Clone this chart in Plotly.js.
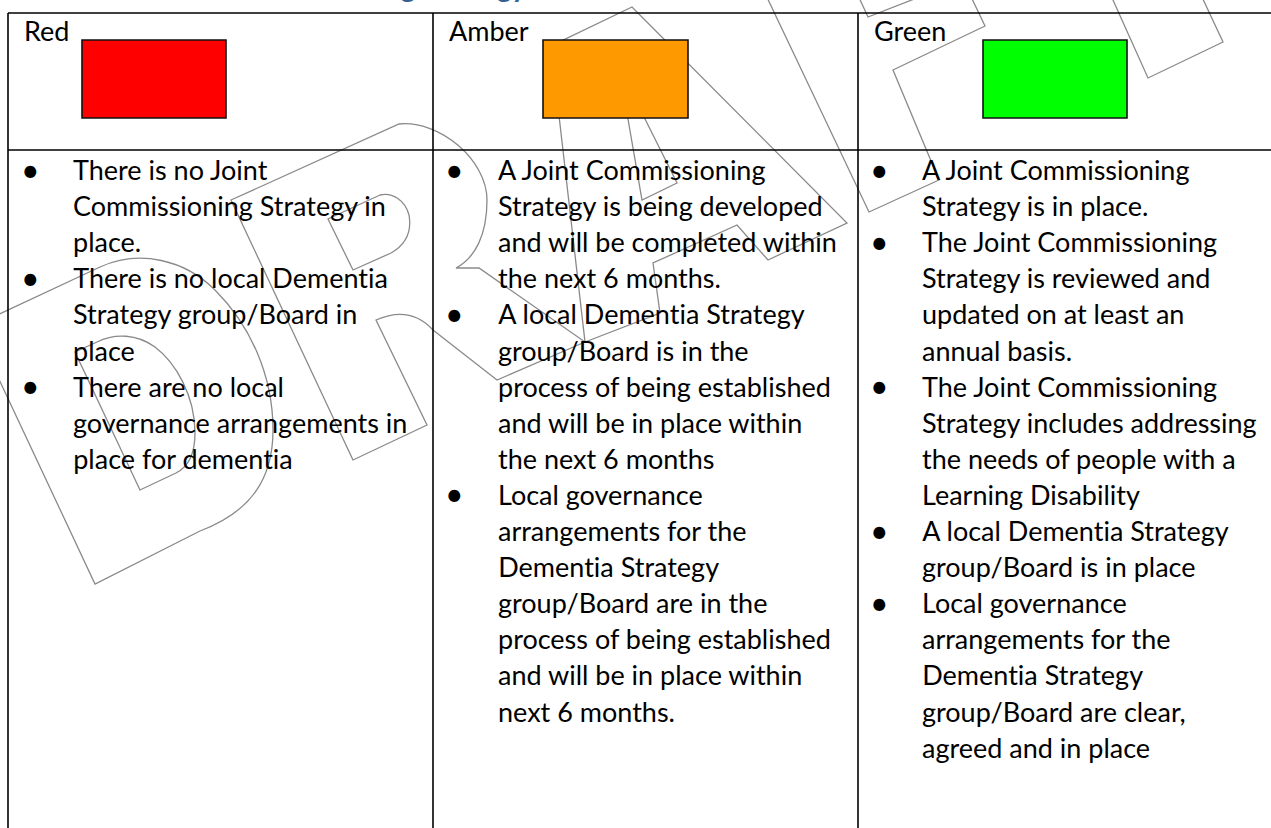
<!DOCTYPE html>
<html>
<head>
<meta charset="utf-8">
<script src="https://cdn.plot.ly/plotly-3.0.1.min.js"></script>
<style>
html,body{margin:0;padding:0;background:#fff;overflow:hidden}
#chart{width:1271px;height:828px}
#chart text{font-variant-ligatures:none;font-feature-settings:"liga" 0,"clig" 0}
</style>
</head>
<body>
<div id="chart"></div>
<script>
// ---------------- data ----------------
const titleText = "Joint Commissioning Strategy";
const columns = ["Red", "Amber", "Green"];
const swatchColors = ["#FF0000", "#FF9900", "#00FF00"];

const redItems = [
  ["There is no Joint", "Commissioning Strategy in", "place."],
  ["There is no local Dementia", "Strategy group/Board in", "place"],
  ["There are no local", "governance arrangements in", "place for dementia"]
];
const amberItems = [
  ["A Joint Commissioning", "Strategy is being developed", "and will be completed within", "the next 6 months."],
  ["A local Dementia Strategy", "group/Board is in the", "process of being established", "and will be in place within", "the next 6 months"],
  ["Local governance", "arrangements for the", "Dementia Strategy", "group/Board are in the", "process of being established", "and will be in place within", "next 6 months."]
];
const greenItems = [
  ["A Joint Commissioning", "Strategy is in place."],
  ["The Joint Commissioning", "Strategy is reviewed and", "updated on at least an", "annual basis."],
  ["The Joint Commissioning", "Strategy includes addressing", "the needs of people with a", "Learning Disability"],
  ["A local Dementia Strategy", "group/Board is in place"],
  ["Local governance", "arrangements for the", "Dementia Strategy", "group/Board are clear,", "agreed and in place"]
];
const columnItems = [redItems, amberItems, greenItems];

// ---------------- layout constants ----------------
const W = 1271, H = 828;
const colLines = [8, 433, 858];
const topY = 13, rowY = 150;
const labelOffset = 15, labelBaseline = 41;
const swatchX = [[82, 226], [543, 688], [983, 1127]];
const swatchY = [40, 118];
const bulletX = [30, 454, 879];
const textX = [72, 497, 921];
const firstBaseline = 180, lineStep = 36.1;
const FONT = "Lato, 'Open Sans', sans-serif";
const FS = 27;          // body font size
const BFS = 32;         // bullet font size
const centerFromBaseline = s => 0.387 * s;

// watermark outline ("DRAFT", outlined, rotated)
const watermarkPaths = [
  "M -26,326 L 100,267 C 140,249 185,260 215,290 C 250,325 273,375 273,430 C 273,480 250,512 200,531 L 95,584 Z",
  "M 140,490 L 75,352 L 97,342 C 115,333 137,334 155,347 C 175,362 195,395 195,433 C 195,455 188,467 176,473 Z",
  "M 353,460 L 231,200 L 399,124 C 440,120 487,160 487,200 C 487,235 475,258 456,268 L 479,268 L 585,342 L 551,46 L 632,7 L 847,223 L 768,260 L 737,225 L 653,263 L 660,313 L 585,342 L 497,380 L 433,330 Q 410,305 376,320 L 427,425 Z",
  "M 328,219 L 353,270 L 391,253 C 405,245 412,232 409,215 C 405,200 392,192 380,195 Z",
  "M 619,67 L 677,183 L 642,200 Z",
  "M 754,-30 L 869,212 L 939,180 L 893,70 L 985,26 L 963,-20 L 868,17 L 850,-22",
  "M 1104,-20 L 1148,78 L 1223,42 L 1194,-20"
];

// ---------------- build ----------------
const shapes = [];
watermarkPaths.forEach(p => shapes.push({
  type: 'path', xref: 'x', yref: 'y', path: p,
  line: {color: '#8a8a8a', width: 1.3}, fillcolor: 'rgba(0,0,0,0)', layer: 'above'
}));
// table grid
shapes.push({type: 'line', xref: 'x', yref: 'y', x0: colLines[0], x1: W + 5, y0: topY, y1: topY, line: {color: '#000', width: 1.6}});
shapes.push({type: 'line', xref: 'x', yref: 'y', x0: colLines[0], x1: W + 5, y0: rowY, y1: rowY, line: {color: '#000', width: 1.6}});
colLines.forEach(x => shapes.push({type: 'line', xref: 'x', yref: 'y', x0: x, x1: x, y0: topY, y1: H + 5, line: {color: '#000', width: 1.6}}));
// swatches
swatchColors.forEach((c, i) => shapes.push({
  type: 'rect', xref: 'x', yref: 'y', x0: swatchX[i][0], x1: swatchX[i][1], y0: swatchY[0], y1: swatchY[1],
  fillcolor: c, line: {color: '#111', width: 1.6}, layer: 'above'
}));

const annotations = [];
annotations.push({
  xref: 'x', yref: 'y', x: 527, y: 4, xanchor: 'right', yanchor: 'bottom',
  text: '<b>' + titleText + '</b>', showarrow: false, borderpad: 0,
  font: {family: FONT, size: 28, color: '#365F91'}
});
columns.forEach((name, c) => {
  annotations.push({
    xref: 'x', yref: 'y', x: colLines[c] + labelOffset, y: labelBaseline - centerFromBaseline(FS),
    xanchor: 'left', yanchor: 'middle', text: name, showarrow: false, borderpad: 0,
    font: {family: FONT, size: FS, color: '#000'}
  });
  let line = 0;
  columnItems[c].forEach(item => {
    const base = firstBaseline + lineStep * line;
    annotations.push({
      xref: 'x', yref: 'y', x: bulletX[c], y: base - 11, xanchor: 'center', yanchor: 'middle',
      text: '•', showarrow: false, borderpad: 0,
      font: {family: FONT, size: BFS, color: '#000'}
    });
    item.forEach(t => {
      const b = firstBaseline + lineStep * line;
      annotations.push({
        xref: 'x', yref: 'y', x: textX[c], y: b - centerFromBaseline(FS),
        xanchor: 'left', yanchor: 'middle', text: t, showarrow: false, borderpad: 0,
        font: {family: FONT, size: FS, color: '#000'}
      });
      line++;
    });
  });
});

const layout = {
  width: W, height: H,
  margin: {l: 0, r: 0, t: 0, b: 0, pad: 0},
  paper_bgcolor: '#fff', plot_bgcolor: '#fff',
  xaxis: {range: [0, W], visible: false, fixedrange: true},
  yaxis: {range: [H, 0], visible: false, fixedrange: true},
  showlegend: false,
  shapes: shapes,
  annotations: annotations
};
Plotly.newPlot('chart', [{x: [], y: [], type: 'scatter', mode: 'markers', hoverinfo: 'skip'}], layout, {staticPlot: true, displayModeBar: false});
</script>
</body>
</html>
